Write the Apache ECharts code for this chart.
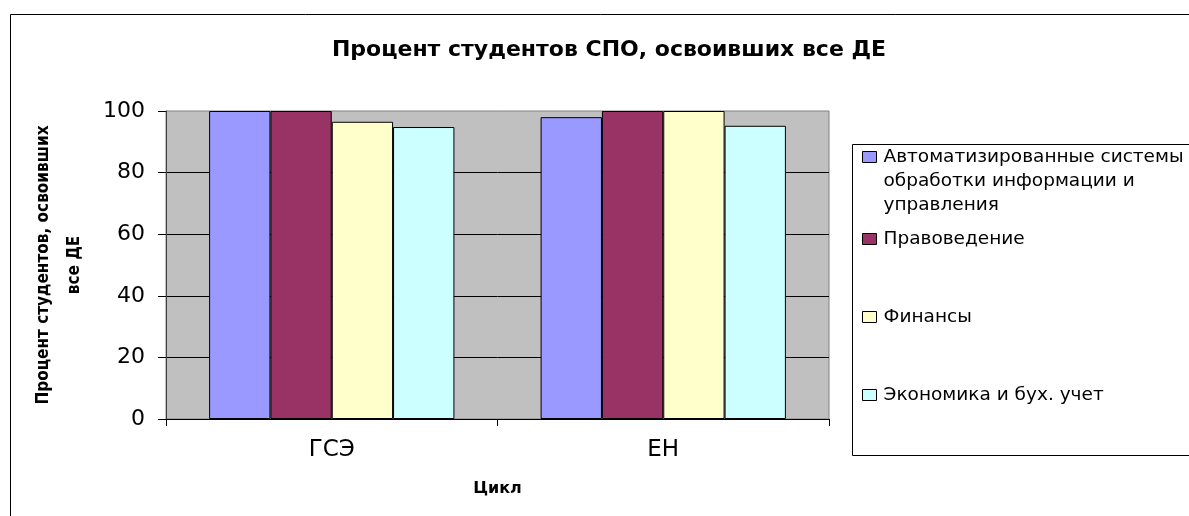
<!DOCTYPE html>
<html>
<head>
<meta charset="utf-8">
<script src="https://cdn.jsdelivr.net/npm/echarts@6/dist/echarts.min.js"></script>
<style>
html,body{margin:0;padding:0;background:#fff;}
#chart{width:1189px;height:516px;}
</style>
</head>
<body>
<div id="chart"></div>
<script>
var titleText = 'Процент студентов СПО, освоивших все ДЕ';
var categories = ['ГСЭ', 'ЕН'];
var seriesNames = ['Автоматизированные системы обработки информации и управления', 'Правоведение', 'Финансы', 'Экономика и бух. учет'];
var legendLabels = ['Автоматизированные системы\nобработки информации и\nуправления', 'Правоведение', 'Финансы', 'Экономика и бух. учет'];
var seriesColors = ['#9999FF', '#993366', '#FFFFCC', '#CCFFFF'];
var valuesASOIU = [100, 98];
var valuesPravo = [100, 100];
var valuesFinance = [96.5, 100];
var valuesEconomy = [94.8, 95.2];
var yTicks = [0, 20, 40, 60, 80, 100];
var yAxisName = 'Процент студентов, освоивших\nвсе ДЕ';
var xAxisName = 'Цикл';

var seriesValues = [valuesASOIU, valuesPravo, valuesFinance, valuesEconomy];
var chart = echarts.init(document.getElementById('chart'));

var legendTops = [97, 227, 305, 383];
var legends = seriesNames.map(function (name, i) {
  return {
    data: [name],
    left: 862,
    top: legendTops[i],
    padding: 0,
    orient: 'vertical',
    itemWidth: 14,
    itemHeight: 11,
    icon: 'rect',
    selectedMode: false,
    itemStyle: { borderColor: '#000', borderWidth: 1 },
    textStyle: { fontFamily: 'DejaVu Sans', fontSize: 18.5, color: '#000', lineHeight: 24, padding: [0, 0, 0, 2] },
    formatter: function (n) {
      var idx = seriesNames.indexOf(n);
      var lbl = legendLabels[idx];
      var lines = lbl.split('\n').length;
      var pre = '';
      for (var k = 1; k < lines; k++) pre += '\n';
      return pre + lbl;
    }
  };
});

var option = {
  animation: false,
  backgroundColor: '#fff',
  title: {
    text: titleText,
    left: 604,
    top: 34,
    textAlign: 'center',
    textStyle: { fontFamily: 'DejaVu Sans', fontWeight: 'bold', fontSize: 22, color: '#000' }
  },
  graphic: [
    { type: 'rect', shape: { x: 10.5, y: 14.5, width: 1200, height: 520 }, style: { fill: 'none', stroke: '#000', lineWidth: 1 }, silent: true },
    { type: 'rect', shape: { x: 852.5, y: 144.5, width: 400, height: 311 }, style: { fill: 'none', stroke: '#000', lineWidth: 1 }, silent: true }
  ],
  legend: legends,
  grid: {
    left: 166, top: 111, right: 360, bottom: 97,
    show: true, backgroundColor: '#C0C0C0', borderColor: '#808080', borderWidth: 1
  },
  xAxis: {
    type: 'category',
    data: categories,
    name: xAxisName,
    nameLocation: 'middle',
    nameGap: 62,
    nameTextStyle: { fontFamily: 'DejaVu Sans', fontWeight: 'bold', fontSize: 16, color: '#000' },
    axisLine: { lineStyle: { color: '#000', width: 1 } },
    axisTick: { show: true, length: 7, lineStyle: { color: '#000' } },
    axisLabel: { fontFamily: 'DejaVu Sans', fontSize: 23, color: '#000', margin: 20 }
  },
  yAxis: {
    type: 'value',
    min: 0, max: 100, interval: 20,
    name: yAxisName,
    nameLocation: 'middle',
    nameGap: 76,
    nameTextStyle: { fontFamily: 'DejaVu Sans Condensed', fontWeight: 'bold', fontSize: 17, color: '#000', lineHeight: 31, align: 'center' },
    axisLine: { show: true, lineStyle: { color: '#404040', width: 1 } },
    axisTick: { show: true, length: 8, lineStyle: { color: '#000' } },
    axisLabel: {
      fontFamily: 'DejaVu Sans', fontSize: 22, color: '#000', margin: 21,
      formatter: function (v) { return yTicks.indexOf(v) >= 0 ? String(v) : ''; }
    },
    splitLine: { show: true, showMaxLine: false, showMinLine: false, lineStyle: { color: '#000', width: 1 } }
  },
  series: seriesNames.map(function (name, i) {
    return {
      name: name,
      type: 'bar',
      data: seriesValues[i],
      barGap: '0%',
      barCategoryGap: '26%',
      itemStyle: { color: seriesColors[i], borderColor: '#000', borderWidth: 1 }
    };
  })
};
chart.setOption(option);
</script>
</body>
</html>
